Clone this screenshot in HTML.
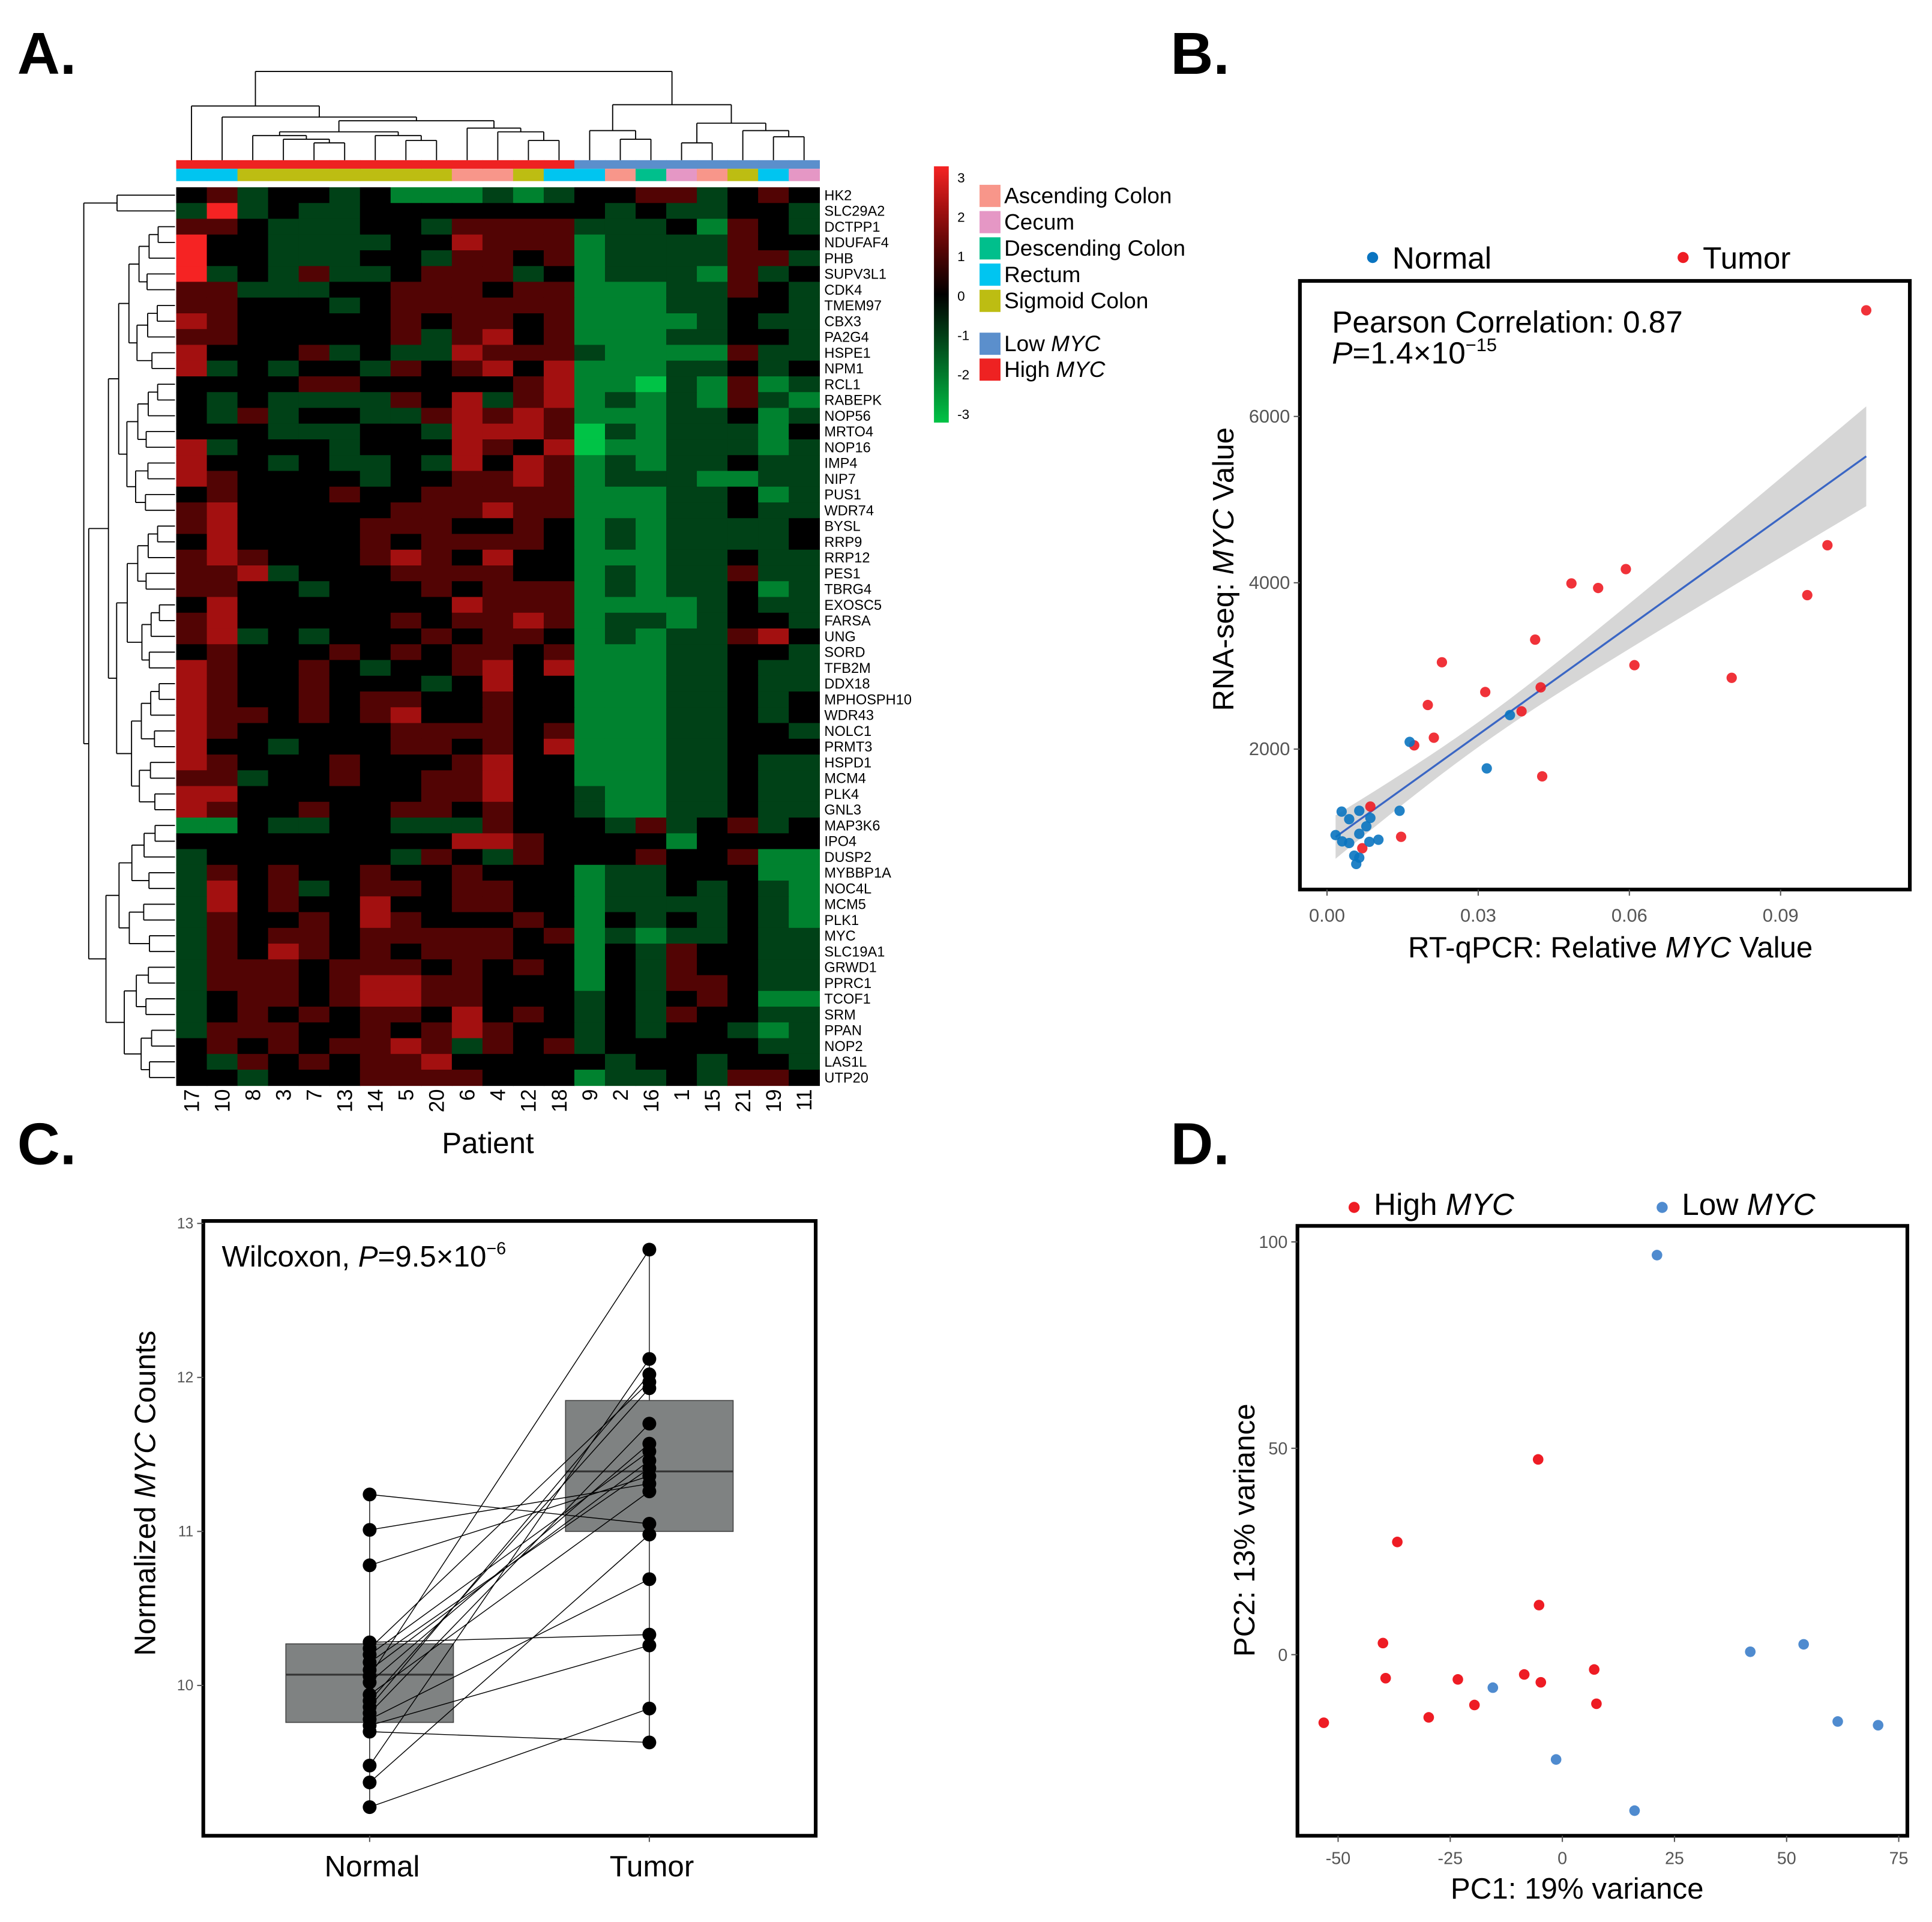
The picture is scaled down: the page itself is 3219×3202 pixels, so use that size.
<!DOCTYPE html>
<html><head><meta charset="utf-8"><style>
html,body{margin:0;padding:0;background:#fff}
svg{display:block}
text{font-family:"Liberation Sans",Arial,sans-serif}
</style></head><body>
<svg id="fig" xmlns="http://www.w3.org/2000/svg" width="3219" height="3202" viewBox="0 0 1568 1560" preserveAspectRatio="none">
<rect width="1568" height="1560" fill="#fff"/>
<text x="14" y="60" font-size="48" font-weight="bold">A.</text>
<text x="950" y="60" font-size="48" font-weight="bold">B.</text>
<text x="14" y="945" font-size="48" font-weight="bold">C.</text>
<text x="950" y="945" font-size="48" font-weight="bold">D.</text>
<g id="pa"></g>
<g id="pb"></g>
<g id="pc"></g>
<g id="pd"></g>
</svg>
<script>
// ---------- Panel A data ----------
const genes=["HK2","SLC29A2","DCTPP1","NDUFAF4","PHB","SUPV3L1","CDK4","TMEM97","CBX3","PA2G4","HSPE1","NPM1","RCL1","RABEPK","NOP56","MRTO4","NOP16","IMP4","NIP7","PUS1","WDR74","BYSL","RRP9","RRP12","PES1","TBRG4","EXOSC5","FARSA","UNG","SORD","TFB2M","DDX18","MPHOSPH10","WDR43","NOLC1","PRMT3","HSPD1","MCM4","PLK4","GNL3","MAP3K6","IPO4","DUSP2","MYBBP1A","NOC4L","MCM5","PLK1","MYC","SLC19A1","GRWD1","PPRC1","TCOF1","SRM","PPAN","NOP2","LAS1L","UTP20"];
const patients=["17","10","8","3","7","13","14","5","20","6","4","12","18","9","2","16","1","15","21","19","11"];
const mycGroup=["H","H","H","H","H","H","H","H","H","H","H","H","H","L","L","L","L","L","L","L","L"];
const locs=["R","R","S","S","S","S","S","S","S","A","A","S","R","R","A","D","C","A","S","R","C"];
// z-score rows (digit 0..6 => -3..3)
const zrows=[
"3423323 1112123 3442343","2623223 3333333 2322332","4432223 3244442 2231432","6332222 3354441 2222433",
"6332223 3244341 2222442","6232422 3444231 2221423","4422233 4443441 1122432","4433323 4444441 1122332",
"5433333 4344341 1112322","4433333 4245341 1122332","5333423 2254442 1111422","5232332 4345351 1122323",
"3333443 3333451 1021412","3232222 4352451 2121421","3242332 2454541 1122312","3332223 3255540 2122213",
"5233323 3354350 1122212","5332322 3253541 2122322","5433332 3344541 2221122","3433343 3444441 1122312",
"4533333 4445441 1122322","4533334 4433431 2122223","3533334 3444431 2122223","4543334 5435331 1122322",
"4452333 4444331 2122422","4433233 3434441 2122312","3533333 3354441 1112322","4533333 4344541 2212332",
"4523233 3434431 2122453","3433343 4344341 1122332","5433432 3345351 1122322","5433433 3235331 1122322",
"5433434 4334331 1122323","5443434 5334331 1122323","5433333 4444341 1122332","5332333 4434351 1122333",
"5433343 3345331 1122322","4423343 3445331 1122322","5533333 3445332 1122322","5433433 4434332 1122322",
"1132233 2224333 2423423","3333333 3355433 3313333","2333333 2432433 3433411","2434334 3343331 2233311",
"2534234 4344331 2232321","2534335 3344331 2222321","2433435 4333431 3232321","2434434 4444341 2122322",
"2435434 3444331 3243322","2444344 4343431 3243322","2444345 5443331 3244322","2344345 5443332 3234311",
"2343434 4353432 3243322","2444334 3454332 3233212","3434344 5424342 3333322","3243434 4533333 2332332",
"3323334 4443331 2232443"].map(s=>s.replace(/ /g,"").split("").map(c=>+c-3));
const keyTicks=["3","2","1","0","-1","-2","-3"];
const locNames=["Ascending Colon","Cecum","Descending Colon","Rectum","Sigmoid Colon"];
const locCodes=["A","C","D","R","S"];
const colTree={h:58,c:[
 {h:86,c:[0,{h:95,c:[1,{h:98,c:[
   {h:107,c:[{h:110,c:[2,{h:113,c:[3,{h:116,c:[4,5]}]}]},{h:110,c:[6,{h:114,c:[7,8]}]}]},
   {h:104,c:[9,{h:107,c:[10,{h:114,c:[11,12]}]}]}]}]}]},
 {h:85,c:[{h:106,c:[13,{h:113,c:[14,15]}]},{h:100,c:[{h:116,c:[16,17]},{h:106,c:[18,{h:111,c:[19,20]}]}]}]}]};
const rowTree={h:68,c:[{h:95,c:[0,1]},{h:72,c:[{h:88,range:[2,39]},{h:86,range:[40,56]}]}]};

(function(){
const NS="http://www.w3.org/2000/svg";
function mk(p,tag,at,txt){const e=document.createElementNS(NS,tag);for(const k in at)e.setAttribute(k,at[k]);if(txt!==undefined)e.textContent=txt;p.appendChild(e);return e;}
const pa=document.getElementById('pa');
const HX0=143,HX1=665,HY0=152,HY1=881;
const cw=(HX1-HX0)/patients.length, rh=(HY1-HY0)/genes.length;
const xCol=i=>HX0+cw*(i+0.5), yRow=j=>HY0+rh*(j+0.5);
function zcol(v){v=Math.max(-3,Math.min(3,v));if(v>=0){const t=v/3;return `rgb(${Math.round(t*245)},${Math.round(t*t*35)},${Math.round(t*t*35)})`;}const t=-v/3;return `rgb(0,${Math.round(t*195)},${Math.round(t*70)})`;}
zrows.forEach((row,j)=>row.forEach((v,i)=>{
 const r=mk(pa,'rect',{x:HX0+cw*i,y:HY0+rh*j,width:cw+0.4,height:rh+0.4,fill:zcol(v)});
 
 
}));
const locColor={A:"#F8968A",C:"#E597C5",D:"#00BF8C",R:"#00C5F0",S:"#BDBD12"};
patients.forEach((p,i)=>{
 const a=mk(pa,'rect',{x:HX0+cw*i,y:130,width:cw+0.4,height:7,fill:mycGroup[i]=="H"?"#EE2222":"#5B8FCC"});
 
 
 const b=mk(pa,'rect',{x:HX0+cw*i,y:137,width:cw+0.4,height:10,fill:locColor[locs[i]]});
 
 
 const t=mk(pa,'text',{x:0,y:0,'font-size':17,transform:`translate(${xCol(i)+6},884) rotate(-90)`,'text-anchor':'end'},p);
 
 
});
genes.forEach((g,j)=>{
 const t=mk(pa,'text',{x:669,y:yRow(j)+4,'font-size':11.5},g);
 
 
});
{const t=mk(pa,'text',{x:396,y:936,'font-size':24,'text-anchor':'middle'},"Patient");}
function drawCol(n){if(typeof n==="number")return {x:xCol(n),y:130};const kids=n.c.map(drawCol);
 kids.forEach(k=>{const l=mk(pa,'line',{x1:k.x,y1:k.y,x2:k.x,y2:n.h,stroke:"#000","stroke-width":0.9});});
 const l=mk(pa,'line',{x1:kids[0].x,y1:n.h,x2:kids[kids.length-1].x,y2:n.h,stroke:"#000","stroke-width":0.9});
 return {x:(kids[0].x+kids[kids.length-1].x)/2,y:n.h};}
drawCol(colTree);
function expand(n){if(typeof n==="number")return n;if(n.range){const [a,b]=n.range;if(a===b)return a;const m=Math.floor((a+b)/2);const step=(140-n.h)/Math.max(2,Math.log2(b-a+1)+1);return {h:n.h,c:[expand({h:n.h+step,range:[a,m]}),expand({h:n.h+step*((a+b)%3==0?1.4:0.8),range:[m+1,b]})]};}return {h:n.h,c:n.c.map(expand)};}
function drawRow(n){if(typeof n==="number")return {x:142,y:yRow(n)};const kids=n.c.map(drawRow);const h=Math.min(n.h,139);
 kids.forEach(k=>{const l=mk(pa,'line',{x1:k.x,y1:k.y,x2:h,y2:k.y,stroke:"#000","stroke-width":0.9});});
 const l=mk(pa,'line',{x1:h,y1:kids[0].y,x2:h,y2:kids[kids.length-1].y,stroke:"#000","stroke-width":0.9});
 return {x:h,y:(kids[0].y+kids[kids.length-1].y)/2};}
drawRow(expand(rowTree));
{const g=mk(pa,'defs',{});const lg=mk(g,'linearGradient',{id:'kg',x1:0,y1:0,x2:0,y2:1});
 keyTicks.forEach((k,i)=>mk(lg,'stop',{offset:i/(keyTicks.length-1),'stop-color':zcol(+k)}));
 const r=mk(pa,'rect',{x:758,y:135,width:12,height:208,fill:'url(#kg)'});
 keyTicks.forEach((k,i)=>{const t=mk(pa,'text',{x:777,y:148+i*32,'font-size':11},k);});}
locNames.forEach((n,i)=>{const y=150+i*21.3;
 const r=mk(pa,'rect',{x:795,y:y,width:17,height:18,fill:locColor[locCodes[i]]});
 const t=mk(pa,'text',{x:815,y:y+15,'font-size':18},n);});
[["Low ","#5B8FCC",270],["High ","#EE2222",291]].forEach(([n,c,y])=>{
 const r=mk(pa,'rect',{x:795,y:y,width:17,height:18,fill:c});
 const t=mk(pa,'text',{x:815,y:y+15,'font-size':18},n);
 mk(t,'tspan',{'font-style':'italic'},"MYC");});
})();
</script>
<script>
// ---------- Panel B data ----------
const tumorX=[0.1070,0.0993,0.0953,0.0803,0.0593,0.0538,0.0485,0.0413,0.0610,0.0228,0.0314,0.0200,0.0212,0.0424,0.0386,0.0173,0.0427,0.0147,0.0070,0.0086];
const tumorY=[7276,4451,3851,2857,4164,3937,3992,3316,3009,3044,2686,2530,2137,2742,2454,2045,1672,945,808,1309];
const normalX=[0.0164,0.0363,0.0317,0.0144,0.0029,0.0044,0.0064,0.0086,0.0078,0.0064,0.0017,0.0030,0.0044,0.0084,0.0102,0.0054,0.0064,0.0058];
const normalY=[2086,2409,1768,1258,1248,1157,1258,1172,1071,981,966,890,870,885,910,719,694,618];
const bXTicks=[0,0.03,0.06,0.09], bXLabels=["0.00","0.03","0.06","0.09"];
const bYTicks=[2000,4000,6000];
const fitSlope=43474, fitIntercept=869;
(function(){
const NS="http://www.w3.org/2000/svg";
function mk(p,tag,at,txt){const e=document.createElementNS(NS,tag);for(const k in at)e.setAttribute(k,at[k]);if(txt!==undefined)e.textContent=txt;p.appendChild(e);return e;}
const g=document.getElementById('pb');
const sx=v=>1077+v/0.03*122.7, sy=v=>608-(v-2000)/2000*135;
const xs0=0.0017,xs1=0.107;const hw=x=>Math.sqrt(150*150+Math.pow(7545*(x-0.03),2));
let up=[],dn=[];for(let k=0;k<=40;k++){const x=xs0+(xs1-xs0)*k/40;const y=fitIntercept+fitSlope*x;up.push(sx(x)+","+sy(y+hw(x)));dn.unshift(sx(x)+","+sy(y-hw(x)));}
let e=mk(g,'polygon',{points:up.concat(dn).join(" "),fill:"#d6d6d6"});
e=mk(g,'line',{x1:sx(xs0),y1:sy(fitIntercept+fitSlope*xs0),x2:sx(xs1),y2:sy(fitIntercept+fitSlope*xs1),stroke:"#3a66c4","stroke-width":1.6});
tumorX.forEach((x,i)=>{const c=mk(g,'circle',{cx:sx(x),cy:sy(tumorY[i]),r:4.2,fill:"#EE1C24",'fill-opacity':0.9});});
normalX.forEach((x,i)=>{const c=mk(g,'circle',{cx:sx(x),cy:sy(normalY[i]),r:4.2,fill:"#0A74C0",'fill-opacity':0.9});});
e=mk(g,'rect',{x:1055,y:228,width:495,height:494,fill:"none",stroke:"#000","stroke-width":3});
bXTicks.forEach((t,i)=>{mk(g,'line',{x1:sx(t),y1:722,x2:sx(t),y2:727,stroke:"#555"});
 const l=mk(g,'text',{x:sx(t),y:748,'font-size':15,fill:"#555",'text-anchor':'middle'},bXLabels[i]);});
bYTicks.forEach(t=>{mk(g,'line',{x1:1050,y1:sy(t),x2:1055,y2:sy(t),stroke:"#555"});
 const l=mk(g,'text',{x:1047,y:sy(t)+5,'font-size':15,fill:"#555",'text-anchor':'end'},String(t));});
let t=mk(g,'text',{x:1307,y:777,'font-size':24,'text-anchor':'middle'},"RT-qPCR: Relative ");mk(t,'tspan',{'font-style':'italic'},"MYC");mk(t,'tspan',{}," Value");
t=mk(g,'text',{x:0,y:0,'font-size':24,'text-anchor':'middle',transform:"translate(1001,462) rotate(-90)"},"RNA-seq: ");mk(t,'tspan',{'font-style':'italic'},"MYC");mk(t,'tspan',{}," Value");
t=mk(g,'text',{x:1081,y:270,'font-size':25},"Pearson Correlation: 0.87");
t=mk(g,'text',{x:1081,y:295,'font-size':25});mk(t,'tspan',{'font-style':'italic'},"P");mk(t,'tspan',{},"=1.4×10");mk(t,'tspan',{'font-size':15,dy:-10},"−15");
[["Normal","#0A74C0",1114],["Tumor","#EE1C24",1366]].forEach(([n,c,x])=>{const d=mk(g,'circle',{cx:x,cy:209,r:4.5,fill:c});
 const l=mk(g,'text',{x:x+16,y:218,'font-size':25},n);});
})();
</script>
<script>
// ---------- Panel C data ----------
const groups=["Normal","Tumor"];
const normalVals=[11.24,11.01,10.78,10.28,10.24,10.20,10.15,10.10,10.06,10.02,9.94,9.90,9.86,9.82,9.78,9.74,9.70,9.48,9.37,9.21];
const tumorVals=[11.05,11.31,11.36,10.33,11.97,11.52,11.41,11.46,12.83,11.57,11.26,11.93,12.02,11.70,10.69,10.26,9.63,12.12,10.98,9.85];
const boxNormal=[9.76,10.07,10.27], boxTumor=[11.0,11.39,11.85];
const cYTicks=[10,11,12,13];
(function(){
const NS="http://www.w3.org/2000/svg";
function mk(p,tag,at,txt){const e=document.createElementNS(NS,tag);for(const k in at)e.setAttribute(k,at[k]);if(txt!==undefined)e.textContent=txt;p.appendChild(e);return e;}
const g=document.getElementById('pc');
const sy=v=>1368-(v-10)*125; const gx=[300,527];
[[normalVals,boxNormal],[tumorVals,boxTumor]].forEach(([vals,b],i)=>{
 const mn=Math.min(...vals),mx=Math.max(...vals);
 let e=mk(g,'line',{x1:gx[i],y1:sy(mn),x2:gx[i],y2:sy(mx),stroke:"#333","stroke-width":0.8});
 e=mk(g,'rect',{x:gx[i]-68,y:sy(b[2]),width:136,height:sy(b[0])-sy(b[2]),fill:"#7f8282",stroke:"#444","stroke-width":0.8});
 e=mk(g,'line',{x1:gx[i]-68,y1:sy(b[1]),x2:gx[i]+68,y2:sy(b[1]),stroke:"#333","stroke-width":1.5});
});
normalVals.forEach((v,i)=>{const l=mk(g,'line',{x1:gx[0],y1:sy(v),x2:gx[1],y2:sy(tumorVals[i]),stroke:"#000","stroke-width":0.7});});
normalVals.forEach(v=>{const c=mk(g,'circle',{cx:gx[0],cy:sy(v),r:5.6,fill:"#000"});});
tumorVals.forEach(v=>{const c=mk(g,'circle',{cx:gx[1],cy:sy(v),r:5.6,fill:"#000"});});
let e=mk(g,'rect',{x:165,y:991,width:497,height:499,fill:"none",stroke:"#000","stroke-width":3});
cYTicks.forEach(t=>{mk(g,'line',{x1:160,y1:sy(t),x2:165,y2:sy(t),stroke:"#555"});const l=mk(g,'text',{x:157,y:sy(t)+4,'font-size':12,fill:"#555",'text-anchor':'end'},String(t));});
groups.forEach((n,i)=>{mk(g,'line',{x1:gx[i],y1:1490,x2:gx[i],y2:1495,stroke:"#555"});const l=mk(g,'text',{x:gx[i]+2,y:1523,'font-size':24,'text-anchor':'middle'},n);});
let t=mk(g,'text',{x:0,y:0,'font-size':24,'text-anchor':'middle',transform:"translate(126,1212) rotate(-90)"},"Normalized ");mk(t,'tspan',{'font-style':'italic'},"MYC");mk(t,'tspan',{}," Counts");
t=mk(g,'text',{x:180,y:1028,'font-size':24});mk(t,'tspan',{},"Wilcoxon, ");mk(t,'tspan',{'font-style':'italic'},"P");mk(t,'tspan',{},"=9.5×10");mk(t,'tspan',{'font-size':14,dy:-10},"−6");
})();
</script>
<script>
// ---------- Panel D data ----------
const highPC1=[-53.2,-36.8,-40.0,-39.4,-29.8,-23.3,-19.6,-8.5,-5.4,-5.2,-4.8,7.1,7.6];
const highPC2=[-16.5,27.3,2.8,-5.7,-15.2,-6.0,-12.2,-4.8,47.3,12.0,-6.7,-3.6,-11.9];
const lowPC1=[21.1,-15.5,-1.4,16.1,41.9,53.8,61.4,70.4];
const lowPC2=[96.8,-8.0,-25.4,-37.8,0.7,2.5,-16.2,-17.1];
const dXTicks=[-50,-25,0,25,50,75], dYTicks=[0,50,100];
(function(){
const NS="http://www.w3.org/2000/svg";
function mk(p,tag,at,txt){const e=document.createElementNS(NS,tag);for(const k in at)e.setAttribute(k,at[k]);if(txt!==undefined)e.textContent=txt;p.appendChild(e);return e;}
const g=document.getElementById('pd');
const sx=v=>1268+v*3.64, sy=v=>1343-v*3.35;
highPC1.forEach((x,i)=>{const c=mk(g,'circle',{cx:sx(x),cy:sy(highPC2[i]),r:4.3,fill:"#EE1C24"});});
lowPC1.forEach((x,i)=>{const c=mk(g,'circle',{cx:sx(x),cy:sy(lowPC2[i]),r:4.3,fill:"#4F8BCF"});});
let e=mk(g,'rect',{x:1053,y:995,width:495,height:495,fill:"none",stroke:"#000","stroke-width":3});
dXTicks.forEach(t=>{mk(g,'line',{x1:sx(t),y1:1490,x2:sx(t),y2:1495,stroke:"#555"});const l=mk(g,'text',{x:sx(t),y:1513,'font-size':14,fill:"#555",'text-anchor':'middle'},String(t));});
dYTicks.forEach(t=>{mk(g,'line',{x1:1048,y1:sy(t),x2:1053,y2:sy(t),stroke:"#555"});const l=mk(g,'text',{x:1045,y:sy(t)+5,'font-size':14,fill:"#555",'text-anchor':'end'},String(t));});
let t=mk(g,'text',{x:1280,y:1541,'font-size':24,'text-anchor':'middle'},"PC1: 19% variance");
t=mk(g,'text',{x:0,y:0,'font-size':24,'text-anchor':'middle',transform:"translate(1018,1242) rotate(-90)"},"PC2: 13% variance");
[["High ","#EE1C24",1099],["Low ","#4F8BCF",1349]].forEach(([n,c,x])=>{const d=mk(g,'circle',{cx:x,cy:980,r:4.5,fill:c});
 const l=mk(g,'text',{x:x+16,y:986,'font-size':25},n);mk(l,'tspan',{'font-style':'italic'},"MYC");});
})();
</script>
</body></html>
